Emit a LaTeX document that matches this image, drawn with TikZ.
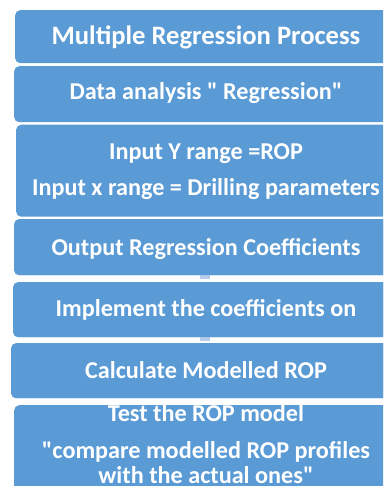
\documentclass[tikz,border=0pt]{standalone}
\usepackage{fontspec}
\setmainfont{Carlito}
\definecolor{boxblue}{HTML}{5B9BD5}
\definecolor{linkblue}{HTML}{B7CBEA}
\newcommand{\dq}{\textquotedbl}
\begin{document}
\begin{tikzpicture}[x=1pt,y=-1pt,
  stepbox/.style={rectangle, rounded corners=5pt, fill=boxblue, draw=none, inner sep=0pt, anchor=north west},
  txt/.style={text=white, font=\fontsize{24.2}{28}\selectfont\bfseries, inner sep=0pt, anchor=base},
  link/.style={draw=linkblue, line width=10pt}]
\useasboundingbox (0,0) rectangle (383,486);
\clip (0,0) rectangle (383,486);
\fill[white] (0,0) rectangle (383,486);
% connectors (behind boxes)
\node[stepbox, minimum width=384pt, minimum height=56pt] (b4) at (14,219) {};
\node[stepbox, minimum width=385pt, minimum height=55pt] (b5) at (13,282) {};
\node[stepbox, minimum width=387pt, minimum height=55pt] (b6) at (11,343) {};
\coordinate (c45a) at (205,275);
\coordinate (c45b) at (205,278.5);
\coordinate (c56a) at (205,337);
\coordinate (c56b) at (205,340.5);
\draw[link] (c45a) -- (c45b);
\draw[link] (c56a) -- (c56b);
\node[stepbox, minimum width=383pt, minimum height=53pt] (b1) at (15,10) {};
\node[stepbox, minimum width=384pt, minimum height=56pt] (b2) at (14,66) {};
\node[stepbox, minimum width=382pt, minimum height=92pt] (b3) at (16,124.5) {};
\node[stepbox, minimum width=384pt, minimum height=56pt] (b4f) at (14,219) {};
\node[stepbox, minimum width=385pt, minimum height=55pt] (b5f) at (13,282) {};
\node[stepbox, minimum width=387pt, minimum height=55pt] (b6f) at (11,343) {};
\node[stepbox, minimum width=384pt, minimum height=100pt] (b7) at (14,405) {};
% texts
\node[txt, font=\fontsize{26.6}{30}\selectfont\bfseries] (t1) at (206,45) {Multiple Regression Process};
\node[txt] (t2) at (206,100) {Data analysis \dq{} Regression\dq};
\node[txt] (t3a) at (206,160) {Input Y range =ROP};
\node[txt] (t3b) at (206,195) {Input x range = Drilling parameters};
\node[txt] (t4) at (206,255) {Output Regression Coefficients};
\node[txt] (t5) at (206,316.5) {Implement the coefficients on};
\node[txt] (t6) at (206,378) {Calculate Modelled ROP};
\node[txt] (t7a) at (206,421.5) {Test the ROP model};
\node[txt] (t7b) at (206,458) {\dq compare modelled ROP profiles};
\node[txt] (t7c) at (206,483) {with the actual ones\dq};
\end{tikzpicture}
\end{document}
